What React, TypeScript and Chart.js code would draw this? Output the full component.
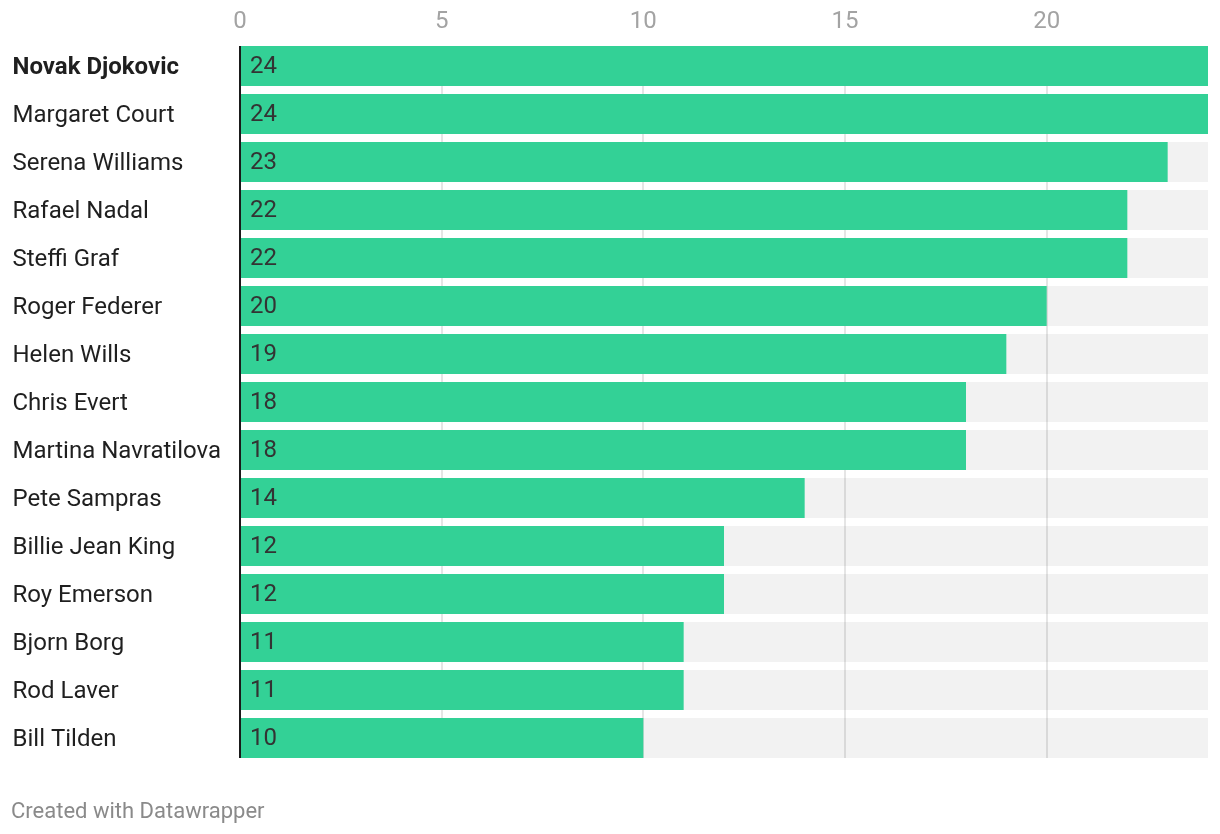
import React, { useEffect, useRef } from "react";
import { Chart, registerables } from "chart.js";

Chart.register(...registerables);

const players = [
  "Novak Djokovic",
  "Margaret Court",
  "Serena Williams",
  "Rafael Nadal",
  "Steffi Graf",
  "Roger Federer",
  "Helen Wills",
  "Chris Evert",
  "Martina Navratilova",
  "Pete Sampras",
  "Billie Jean King",
  "Roy Emerson",
  "Bjorn Borg",
  "Rod Laver",
  "Bill Tilden",
];
const titles = [24, 24, 23, 22, 22, 20, 19, 18, 18, 14, 12, 12, 11, 11, 10];
const axisMax = 24;
const xTicks = [0, 5, 10, 15, 20];
const backgroundValues = players.map(() => axisMax);

const FONT = "Roboto, 'Noto Sans', sans-serif";

const decorPlugin = {
  id: "decor",
  afterDatasetDraw(chart: any, args: any) {
    if (args.index !== 1) return;
    const { ctx, scales } = chart;
    const xs = scales.x;
    const meta = chart.getDatasetMeta(1);
    const first = meta.data[0];
    const last = meta.data[meta.data.length - 1];
    const top = first.y - first.height / 2;
    const bottom = last.y + last.height / 2;
    ctx.save();
    ctx.strokeStyle = "rgba(0,0,0,0.1)";
    ctx.lineWidth = 2;
    for (const t of xTicks) {
      if (t === 0) continue;
      const x = Math.round(xs.getPixelForValue(t));
      ctx.beginPath();
      ctx.moveTo(x, top);
      ctx.lineTo(x, bottom);
      ctx.stroke();
    }
    ctx.restore();
  },
  afterDatasetsDraw(chart: any) {
    const { ctx, scales } = chart;
    const xs = scales.x;
    const meta = chart.getDatasetMeta(0);
    const first = meta.data[0];
    const last = meta.data[meta.data.length - 1];
    const top = first.y - first.height / 2;
    const bottom = last.y + last.height / 2;
    ctx.save();
    // value labels
    ctx.font = `24px ${FONT}`;
    ctx.fillStyle = "#333333";
    ctx.textAlign = "left";
    ctx.textBaseline = "middle";
    meta.data.forEach((el: any, i: number) => {
      ctx.fillText(String(titles[i]), xs.getPixelForValue(0) + 10, el.y + 0.5);
    });
    // zero line
    const x0 = xs.getPixelForValue(0);
    ctx.strokeStyle = "#1a1a1a";
    ctx.lineWidth = 2;
    ctx.beginPath();
    ctx.moveTo(x0, top);
    ctx.lineTo(x0, bottom);
    ctx.stroke();
    ctx.restore();
  },
};

export default function App() {
  const ref = useRef<HTMLCanvasElement | null>(null);
  useEffect(() => {
    if (!ref.current) return;
    const chart = new Chart(ref.current, {
      type: "bar",
      data: {
        labels: players,
        datasets: [
          {
            label: "Grand Slam titles",
            data: titles,
            backgroundColor: "#33d196",
            grouped: false,
            order: 0,
            barPercentage: 40 / 48,
            categoryPercentage: 1,
          } as any,
          {
            label: "bg",
            data: backgroundValues,
            backgroundColor: "#f2f2f2",
            grouped: false,
            order: 1,
            barPercentage: 40 / 48,
            categoryPercentage: 1,
          } as any,
        ],
      },
      plugins: [decorPlugin],
      options: {
        indexAxis: "y",
        responsive: false,
        animation: false,
        events: [],
        layout: { padding: { left: 12.5, right: 12, top: 0, bottom: 72 } },
        plugins: {
          legend: { display: false },
          tooltip: { enabled: false },
        },
        scales: {
          x: {
            position: "top",
            min: 0,
            max: axisMax,
            afterBuildTicks: (s: any) => {
              s.ticks = xTicks.map((v) => ({ value: v }));
            },
            afterFit: (s: any) => {
              s.height = 42;
            },
            grid: { display: false, drawTicks: false },
            border: { display: false },
            ticks: {
              padding: 5.6,
              color: "#a3a3a3",
              font: { family: FONT, size: 24, lineHeight: 1.2 },
              maxRotation: 0,
              autoSkip: false,
            },
          },
          y: {
            afterFit: (s: any) => {
              s.width = 240 - 12.5;
            },
            grid: { display: false, drawTicks: false },
            border: { display: false },
            ticks: {
              crossAlign: "far",
              padding: 0,
              labelOffset: 2,
              color: "#1f1f1f",
              autoSkip: false,
              font: (c: any) => ({
                family: FONT,
                size: 24,
                weight: c.index === 0 ? "bold" : "normal",
              }),
            },
          },
        },
      },
    });
    return () => chart.destroy();
  }, []);
  return (
    <div
      style={{
        position: "absolute",
        left: 0,
        top: 0,
        width: 1220,
        height: 834,
        background: "#ffffff",
      }}
    >
      <canvas ref={ref} width={1220} height={834} style={{ display: "block" }} />
      <div
        style={{
          position: "absolute",
          left: 11,
          top: 797,
          fontFamily: FONT,
          fontSize: 22,
          color: "#8a8a8a",
          lineHeight: "28px",
          whiteSpace: "nowrap",
        }}
      >
        Created with Datawrapper
      </div>
    </div>
  );
}
